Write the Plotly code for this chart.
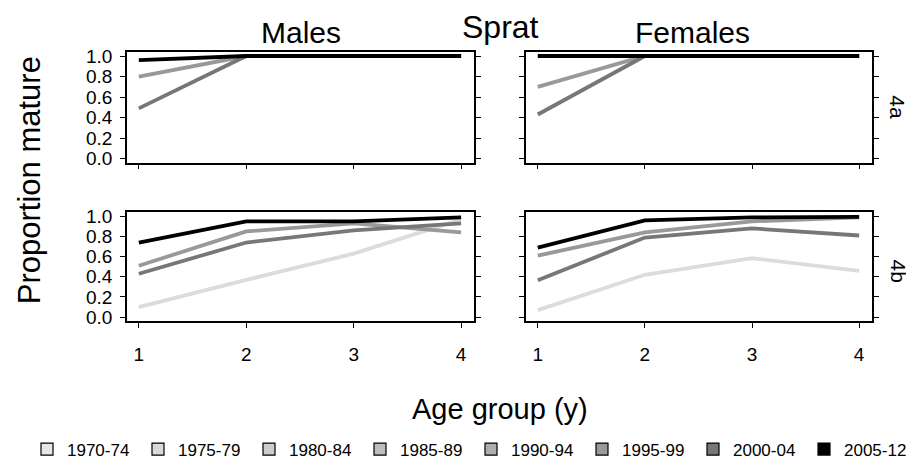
import plotly.graph_objects as go

ages = [1, 2, 3, 4]
periods = ["1970-74", "1975-79", "1980-84", "1985-89", "1990-94", "1995-99", "2000-04", "2005-12"]
legend_fills = ["#e6e6e6", "#dadada", "#cccccc", "#bdbdbd", "#adadad", "#999999", "#777777", "#000000"]
line_colors = {"1970-74": "#dcdcdc", "1995-99": "#999999", "2000-04": "#777777", "2005-12": "#000000"}

# Area 4a
males_4a = {
    "1995-99": [0.80, 1.00, 1.00, 1.00],
    "2000-04": [0.49, 1.00, 1.00, 1.00],
    "2005-12": [0.96, 1.00, 1.00, 1.00],
}
females_4a = {
    "1995-99": [0.70, 1.00, 1.00, 1.00],
    "2000-04": [0.43, 1.00, 1.00, 1.00],
    "2005-12": [1.00, 1.00, 1.00, 1.00],
}
# Area 4b
males_4b = {
    "1970-74": [0.10, 0.37, 0.63, 0.97],
    "1995-99": [0.51, 0.85, 0.93, 0.84],
    "2000-04": [0.43, 0.74, 0.86, 0.93],
    "2005-12": [0.74, 0.95, 0.95, 0.99],
}
females_4b = {
    "1970-74": [0.07, 0.42, 0.585, 0.46],
    "1995-99": [0.61, 0.84, 0.95, 0.99],
    "2000-04": [0.365, 0.79, 0.88, 0.81],
    "2005-12": [0.69, 0.96, 0.99, 0.995],
}

W, H = 914, 465
OFF = 8  # default page body margin
SANS = "Liberation Sans, Arial, Helvetica, sans-serif"

fig = go.Figure()

panels = [
    (males_4a, "x", "y"),
    (females_4a, "x2", "y2"),
    (males_4b, "x3", "y3"),
    (females_4b, "x4", "y4"),
]
for data, xa, ya in panels:
    for p, vals in data.items():
        fig.add_trace(go.Scatter(
            x=ages, y=vals, mode="lines", xaxis=xa, yaxis=ya,
            line=dict(color=line_colors[p], width=3.8),
            showlegend=False, hoverinfo="skip",
        ))

for p, c in zip(periods, legend_fills):
    fig.add_trace(go.Scatter(
        x=[None], y=[None], mode="markers", name=p,
        marker=dict(symbol="square", size=12, color=c, line=dict(color="black", width=1.2)),
        showlegend=True,
    ))

def fx(s):
    return (s - OFF) / W

def fy(s):
    return 1 - (s - OFF) / H

xdom_l = [fx(127), fx(474)]
xdom_r = [fx(526), fx(872)]
ydom_t = [fy(161), fy(47)]
ydom_b = [fy(324), fy(212)]

xcommon = dict(range=[0.89, 4.12], showline=True, linecolor="black", linewidth=1.5, mirror=True,
               ticks="outside", ticklen=5, tickcolor="black", tickwidth=1.2,
               tickvals=ages, showgrid=False, zeroline=False,
               tickfont=dict(family=SANS, size=19, color="black"))
ycommon = dict(range=[-0.04, 1.04], showline=True, linecolor="black", linewidth=1.5, mirror="allticks",
               ticks="outside", ticklen=5, tickcolor="black", tickwidth=1.2,
               tickvals=[0, 0.2, 0.4, 0.6, 0.8, 1.0], tickformat=".1f",
               showgrid=False, zeroline=False,
               tickfont=dict(family=SANS, size=19, color="black"))

fig.update_layout(
    xaxis=dict(xcommon, domain=xdom_l, anchor="y", showticklabels=False),
    xaxis2=dict(xcommon, domain=xdom_r, anchor="y2", showticklabels=False),
    xaxis3=dict(xcommon, domain=xdom_l, anchor="y3", ticklabelstandoff=10),
    xaxis4=dict(xcommon, domain=xdom_r, anchor="y4", ticklabelstandoff=10),
    yaxis=dict(ycommon, domain=ydom_t, anchor="x", ticklabelstandoff=4),
    yaxis2=dict(ycommon, domain=ydom_t, anchor="x2", showticklabels=False),
    yaxis3=dict(ycommon, domain=ydom_b, anchor="x3", ticklabelstandoff=4),
    yaxis4=dict(ycommon, domain=ydom_b, anchor="x4", showticklabels=False),
)

def ann(text, x, y, size, angle=0):
    fig.add_annotation(text=text, x=fx(x), y=fy(y), xref="paper", yref="paper",
                       showarrow=False, textangle=angle, xanchor="center", yanchor="middle",
                       font=dict(family=SANS, size=size, color="black"))

ann("Sprat", 500, 21, 32)
ann("Males", 301, 27, 30)
ann("Females", 692, 27, 30)
ann("Proportion mature", 29, 179, 31, angle=-90)
ann("Age group (y)", 500, 414, 29)
ann("4a", 898, 104, 21, angle=90)
ann("4b", 898, 272, 21, angle=90)

fig.update_layout(
    width=W, height=H, autosize=False,
    margin=dict(l=0, r=0, t=0, b=0),
    paper_bgcolor="white", plot_bgcolor="white",
    showlegend=True,
    legend=dict(orientation="h", xref="paper", yref="paper",
                x=19 / W, y=1 - 448 / H, xanchor="left", yanchor="middle",
                entrywidth=66, entrywidthmode="pixels", itemwidth=30,
                font=dict(family=SANS, size=17, color="black"),
                bgcolor="rgba(0,0,0,0)", borderwidth=0, tracegroupgap=0),
)

fig.write_html("out.html")
